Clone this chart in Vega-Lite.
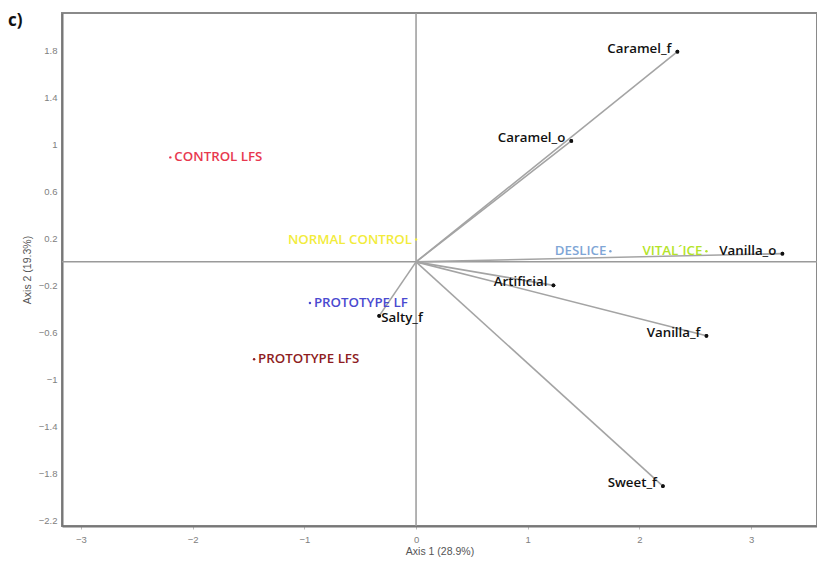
{
  "$schema": "https://vega.github.io/schema/vega-lite/v6.json",
  "autosize": {"type": "none"},
  "padding": {"left": 62, "top": 13, "right": 0, "bottom": 37},
  "width": 755,
  "height": 513,
  "background": "white",
  "title": {"text": "c)", "anchor": "start", "frame": "group", "dx": -54, "dy": 22, "fontSize": 17, "fontWeight": "bold", "font": "Open Sans", "color": "#111"},
  "config": {
    "view": {"stroke": "#8a8a8a", "strokeWidth": 2},
    "axis": {"grid": false, "labelOverlap": false, "labelSeparation": 0, "labelFont": "Liberation Sans", "labelFontSize": 9.5, "labelColor": "#808080", "titleFont": "Liberation Sans", "titleFontSize": 10.5, "titleFontWeight": "normal", "titleColor": "#555", "domainColor": "#777", "domainWidth": 2, "tickColor": "#bbb", "tickSize": 3},
    "axisY": {"labelOverlap": false},
    "axisLeft": {"labelOverlap": false},
    "axisQuantitative": {"labelOverlap": false}
  },
  "datasets": {
    "vars": [
      {"name": "Caramel_f", "x": 2.34, "y": 1.79},
      {"name": "Caramel_o", "x": 1.39, "y": 1.03},
      {"name": "Vanilla_o", "x": 3.28, "y": 0.07},
      {"name": "Artificial", "x": 1.23, "y": -0.2},
      {"name": "Vanilla_f", "x": 2.6, "y": -0.63},
      {"name": "Sweet_f", "x": 2.21, "y": -1.91},
      {"name": "Salty_f", "x": -0.33, "y": -0.46}
    ],
    "prods": [
      {"name": "CONTROL LFS", "x": -2.2, "y": 0.89},
      {"name": "NORMAL CONTROL", "x": 0.0, "y": 0.19},
      {"name": "PROTOTYPE LF", "x": -0.95, "y": -0.35},
      {"name": "PROTOTYPE LFS", "x": -1.45, "y": -0.83},
      {"name": "DESLICE", "x": 1.74, "y": 0.09},
      {"name": "VITAL´ICE", "x": 2.6, "y": 0.09},
      {"name": "", "x": 2.03, "y": 0.87}
    ],
    "zero": [{"v": 0}]
  },
  "layer": [
    {"data": {"name": "vars"}, "mark": {"type": "point", "filled": true, "color": "#111", "size": 14, "opacity": 1},
     "encoding": {
       "x": {"field": "x", "type": "quantitative", "scale": {"domain": [-3.17, 3.59], "nice": false, "zero": false}, "axis": {"title": "Axis 1 (28.9%)", "values": [-3, -2, -1, 0, 1, 2, 3], "format": "~g", "labelOverlap": false, "labelPadding": 5, "titlePadding": 3}},
       "y": {"field": "y", "type": "quantitative", "scale": {"domain": [-2.25, 2.12], "nice": false, "zero": false}, "axis": {"title": "Axis 2 (19.3%)", "values": [-2.2, -2, -1.8, -1.6, -1.4, -1.2, -1, -0.8, -0.6, -0.4, -0.2, 0, 0.2, 0.4, 0.6, 0.8, 1, 1.2, 1.4, 1.6, 1.8, 2], "format": "~g", "labelOverlap": false, "labelBound": false, "tickSize": 0, "labelPadding": 5, "titlePadding": 6}}}},
    {"data": {"name": "zero"}, "mark": {"type": "rule", "color": "#9a9a9a", "strokeWidth": 1.5},
     "encoding": {"x": {"field": "v", "type": "quantitative", "axis": {"title": "Axis 1 (28.9%)", "values": [-3, -2, -1, 0, 1, 2, 3], "format": "~g", "labelOverlap": false, "labelPadding": 5, "titlePadding": 3}}}},
    {"data": {"name": "zero"}, "mark": {"type": "rule", "color": "#9a9a9a", "strokeWidth": 1.5},
     "encoding": {"y": {"field": "v", "type": "quantitative", "axis": {"title": "Axis 2 (19.3%)", "values": [-2.2, -2, -1.8, -1.6, -1.4, -1.2, -1, -0.8, -0.6, -0.4, -0.2, 0, 0.2, 0.4, 0.6, 0.8, 1, 1.2, 1.4, 1.6, 1.8, 2], "format": "~g", "labelOverlap": false, "labelBound": false, "tickSize": 0, "labelPadding": 5, "titlePadding": 6}}}},
    {"data": {"name": "vars"}, "mark": {"type": "rule", "color": "#a4a4a4", "strokeWidth": 1.6},
     "encoding": {"x": {"field": "x", "type": "quantitative"}, "y": {"field": "y", "type": "quantitative"}, "x2": {"datum": 0}, "y2": {"datum": 0}}},
    {"data": {"name": "vars"}, "mark": {"type": "point", "filled": true, "color": "#111", "size": 14, "opacity": 1},
     "encoding": {"x": {"field": "x", "type": "quantitative"}, "y": {"field": "y", "type": "quantitative"}}},
    {"data": {"name": "vars"}, "transform": [{"filter": "datum.name != 'Salty_f'"}],
     "mark": {"type": "text", "align": "right", "baseline": "middle", "dx": -6, "dy": -3, "font": "Open Sans", "fontSize": 13.3, "fontWeight": 600, "color": "#111"},
     "encoding": {"x": {"field": "x", "type": "quantitative"}, "y": {"field": "y", "type": "quantitative"}, "text": {"field": "name"}}},
    {"data": {"name": "vars"}, "transform": [{"filter": "datum.name == 'Salty_f'"}],
     "mark": {"type": "text", "align": "left", "baseline": "middle", "dx": 2, "dy": 2, "font": "Open Sans", "fontSize": 13.3, "fontWeight": 600, "color": "#111"},
     "encoding": {"x": {"field": "x", "type": "quantitative"}, "y": {"field": "y", "type": "quantitative"}, "text": {"field": "name"}}},
    {"data": {"name": "prods"}, "mark": {"type": "point", "filled": true, "size": 6, "opacity": 1},
     "encoding": {"x": {"field": "x", "type": "quantitative"}, "y": {"field": "y", "type": "quantitative"},
       "color": {"field": "name", "type": "nominal", "legend": null, "scale": {"domain": ["CONTROL LFS", "NORMAL CONTROL", "PROTOTYPE LF", "PROTOTYPE LFS", "DESLICE", "VITAL´ICE", ""], "range": ["#e8384f", "#f2ec3c", "#4a4ad0", "#8e1c22", "#7fa6d6", "#b4e42a", "#f0a030"]}}}},
    {"data": {"name": "prods"}, "transform": [{"filter": {"field": "name", "oneOf": ["CONTROL LFS", "PROTOTYPE LF", "PROTOTYPE LFS"]}}],
     "mark": {"type": "text", "align": "left", "baseline": "middle", "dx": 4, "font": "Open Sans", "fontSize": 13.3, "fontWeight": 600},
     "encoding": {"x": {"field": "x", "type": "quantitative"}, "y": {"field": "y", "type": "quantitative"}, "text": {"field": "name"},
       "color": {"field": "name", "type": "nominal", "legend": null}}},
    {"data": {"name": "prods"}, "transform": [{"filter": {"field": "name", "oneOf": ["NORMAL CONTROL", "DESLICE", "VITAL´ICE"]}}],
     "mark": {"type": "text", "align": "right", "baseline": "middle", "dx": -4, "font": "Open Sans", "fontSize": 13.3, "fontWeight": 600},
     "encoding": {"x": {"field": "x", "type": "quantitative"}, "y": {"field": "y", "type": "quantitative"}, "text": {"field": "name"},
       "color": {"field": "name", "type": "nominal", "legend": null}}}
  ]
}
